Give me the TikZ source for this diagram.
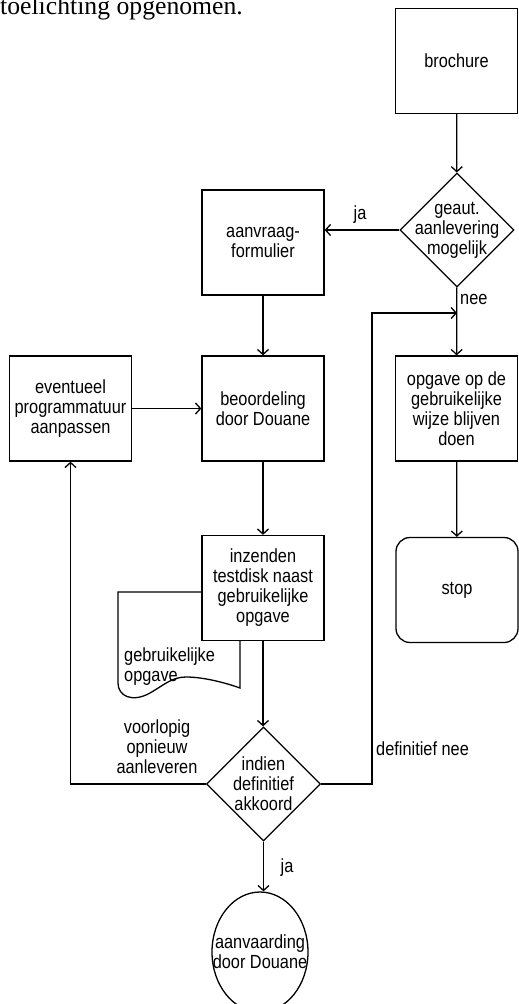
\documentclass[tikz,border=0pt]{standalone}
\usepackage{fontspec}
\setmainfont{Liberation Serif}
\newfontfamily\flowfont[FakeStretch=0.86]{Liberation Sans}
\usetikzlibrary{arrows.meta,shapes.geometric}
\tikzset{
	txt/.style={inner sep=0pt, align=center, font=\flowfont\fontsize{19}{20}\selectfont},
	box/.style={txt, draw, line width=1.3pt, fill=white, minimum width=122pt, minimum height=105pt},
	choice/.style={draw, line width=1.3pt, diamond, aspect=1, minimum size=114pt, inner sep=0pt},
	finish/.style={draw, line width=1.3pt, ellipse, minimum width=96pt, minimum height=120pt, inner sep=0pt},
	arr/.style={line width=1.3pt, -{Straight Barb[length=5pt,width=11pt]}},
	wire/.style={line width=1.3pt}
}

\begin{document}
\begin{tikzpicture}[x=1pt, y=-1pt]
			%%%%% START %%%%%
			\useasboundingbox (0, 0) rectangle (519, 1004);
			
			\node[anchor=base west, inner sep=0pt, font=\fontsize{25.7}{30}\selectfont] (lead) at (0, 14) {toelichting opgenomen.};
			
			% document behind the testdisk box
			\draw[wire] (240, 640) -- (240, 592) -- (118, 592) -- (118, 683)
				.. controls (118, 696) and (132, 703) .. (150, 693)
				.. controls (164, 685) and (172, 677) .. (186, 677)
				.. controls (204, 677) and (226, 683) .. (240, 688) -- cycle;
			\node[txt, align=left, anchor=north west] (docnote) at (124, 648) {gebruikelijke\\opgave};
			
			\node[box] (brochure) at (456.5, 61) {brochure};
			\node[choice, label={[txt]center:geaut.\\aanlevering\\mogelijk}] (geaut) at (457, 230) {};
			\node[box] (aanvraag) at (263, 242.5) {aanvraag-\\formulier};
			
			\node[box] (eventueel) at (70.5, 408.5) {eventueel\\programmatuur\\aanpassen};
			\node[box] (beoordeling) at (263, 408.5) {beoordeling\\door Douane};
			\node[box] (opgave) at (456.5, 408.5) {opgave op de\\gebruikelijke\\wijze blijven\\doen};
			
			\node[box] (inzenden) at (263, 588) {inzenden\\testdisk naast\\gebruikelijke\\opgave};
			\node[box, rounded corners=14pt] (stop) at (457, 590) {stop};
			
			\node[choice, label={[txt]center:indien\\definitief\\akkoord}] (akkoord) at (263.5, 784) {};
			\node[finish, label={[txt]center:aanvaarding\\door Douane}] (aanvaarding) at (260, 952) {};
			
			\coordinate (merge) at (457, 313);
			\coordinate (turn) at (372, 313);
			
			\draw[arr] (brochure) -- (geaut);
			\draw[arr] (geaut.west) -- (geaut.west -| aanvraag.east);
			\draw[arr] (geaut) -- (opgave);
			\draw[arr] (aanvraag) -- (beoordeling);
			\draw[arr] (eventueel) -- (beoordeling);
			\draw[arr] (beoordeling) -- (inzenden);
			\draw[arr] (opgave) -- (stop);
			\draw[arr] (inzenden.south) -- (inzenden.south |- akkoord.north);
			\draw[arr] (akkoord.west) -| (eventueel.south);
			\draw[arr] (akkoord.east) -| (turn) -- (merge);
			\draw[arr] (akkoord.south) -- (akkoord.south |- aanvaarding.north);
			
			\node[txt] (ja1) at (360, 215) {ja};
			\node[txt, anchor=west] (nee1) at (460, 299) {nee};
			\node[txt] (voorlopig) at (157, 747) {voorlopig\\opnieuw\\aanleveren};
			\node[txt, anchor=west] (defnee) at (376, 749) {definitief nee};
			\node[txt] (ja2) at (287, 868) {ja};
			%%%%% END %%%%%
		\end{tikzpicture}
\end{document}
